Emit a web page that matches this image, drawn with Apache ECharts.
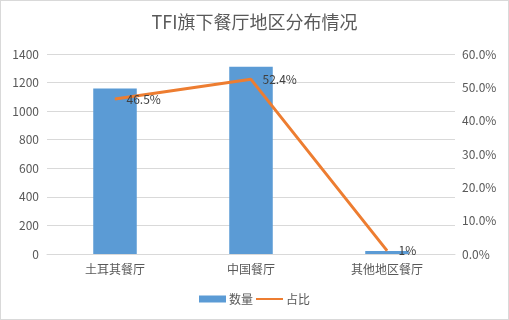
<!DOCTYPE html>
<html lang="zh">
  <head>
    <meta charset="UTF-8" />
    <title>TFI旗下餐厅地区分布情况</title>
    <script src="https://cdn.jsdelivr.net/npm/echarts@6.0.0/dist/echarts.min.js"></script>
    <style>
      html, body { margin: 0; padding: 0; background: #fff; }
      #main { width: 509px; height: 320px; box-sizing: border-box; border: 1px solid #d9d9d9; }
    </style>
  </head>
  <body>
    <div id="main"></div>
    <script type="text/javascript">
      // data
      const categories = ["土耳其餐厅", "中国餐厅", "其他地区餐厅"];
      const counts = [1158, 1310, 21];
      const shares = [46.5, 52.4, 1];
      const shareLabels = ["46.5%", "52.4%", "1%"];

      const font = "'Noto Sans CJK SC', 'Microsoft YaHei', sans-serif";
      const grey = "#595959";

      let myChart = echarts.init(document.getElementById("main"));

      let options = {
        textStyle: { fontFamily: font },
        title: {
          text: "TFI旗下餐厅地区分布情况",
          left: "center",
          top: 7,
          textStyle: { fontSize: 18, fontWeight: "normal", color: grey, fontFamily: font },
        },
        grid: { left: 46, right: 53, top: 53, bottom: 65, containLabel: false },
        legend: {
          bottom: 9,
          itemGap: 2,
          itemWidth: 27,
          itemHeight: 7,
          textStyle: { color: grey, fontSize: 12, padding: [0, 0, 0, -2] },
          data: [
            { name: "数量", icon: "rect" },
            { name: "占比", itemStyle: { opacity: 0 } },
          ],
        },
        xAxis: {
          type: "category",
          data: categories,
          axisLine: { lineStyle: { color: "#d9d9d9" } },
          axisTick: { show: false },
          axisLabel: { color: grey, fontSize: 12, margin: 9 },
        },
        yAxis: [
          {
            type: "value",
            min: 0,
            max: 1400,
            interval: 200,
            axisLabel: { color: grey, fontSize: 12, margin: 8, formatter: (v) => String(v) },
            splitLine: { lineStyle: { color: "#d9d9d9" } },
          },
          {
            type: "value",
            min: 0,
            max: 60,
            interval: 10,
            axisLabel: { color: grey, fontSize: 12, margin: 7, formatter: (v) => v.toFixed(1) + "%" },
            splitLine: { show: false },
          },
        ],
        series: [
          {
            name: "数量",
            type: "bar",
            data: counts,
            barWidth: "32%",
            itemStyle: { color: "#5B9BD5" },
          },
          {
            name: "占比",
            type: "line",
            yAxisIndex: 1,
            data: shares,
            symbol: "circle",
            symbolSize: 1,
            lineStyle: { color: "#ED7D31", width: 3 },
            itemStyle: { color: "#ED7D31" },
            label: {
              show: true,
              position: "right",
              distance: 11,
              color: "#404040",
              fontSize: 12,
              formatter: (p) => shareLabels[p.dataIndex],
            },
          },
        ],
      };

      myChart.setOption(options);
    </script>
  </body>
</html>
